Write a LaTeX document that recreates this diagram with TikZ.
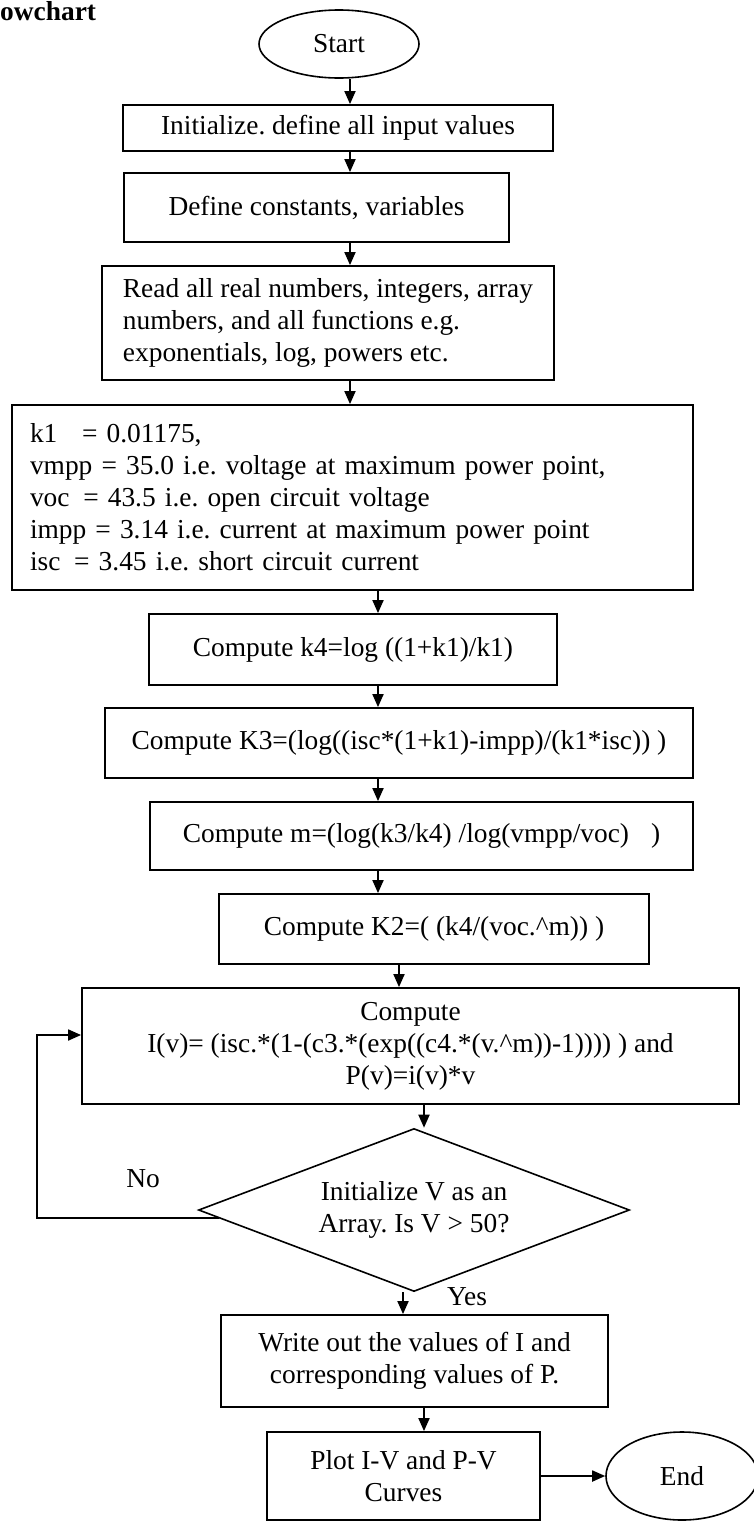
\documentclass[tikz,border=0pt]{standalone}
\usepackage{fontspec}
\setmainfont{Liberation Serif}
\usetikzlibrary{shapes.geometric,arrows.meta,calc}

\begin{document}
\frenchspacing
\begin{tikzpicture}[x=1pt, y=-1pt,
    font=\fontsize{27.4}{32}\selectfont,
    box/.style={draw, rectangle, line width=1.8pt, inner sep=0pt},
    term/.style={draw, ellipse, line width=1.6pt, inner sep=0pt},
    dec/.style={draw, diamond, aspect=2.64, line width=1.6pt, inner sep=0pt},
    arr/.style={-{Triangle[length=13pt,width=11pt]}, line width=1.8pt}]
    \useasboundingbox (0,0) rectangle (753,1521);

    % Nodes
    \node[anchor=base west, inner sep=0pt, font=\fontsize{27.4}{32}\selectfont\bfseries] (title) at (0,20) {owchart};
    \node[term, minimum width=160pt, minimum height=68pt] (St) at (339,44) {Start};
    \node[box, minimum width=430pt, minimum height=46pt] (Init) at (338,128) {Initialize. define all input values};
    \node[box, minimum width=385pt, minimum height=69pt] (Def) at (316.5,207.5) {Define constants, variables};
    \node[box, minimum width=452pt, minimum height=114pt, align=left] (Read) at (328,323) {Read all real numbers, integers, array\\numbers, and all functions e.g.\\exponentials, log, powers etc.};
    \node[box, minimum width=681pt, minimum height=185pt, text width=645pt, inner xsep=18pt, align=left] (Const) at (352.5,497.5) {k1\hspace{0.9em}= 0.01175,\\vmpp = 35.0 i.e. voltage at maximum power point,\\voc\hspace{0.5em}= 43.5 i.e. open circuit voltage\\impp = 3.14 i.e. current at maximum power point\\isc\hspace{0.5em}= 3.45 i.e. short circuit current};
    \node[box, minimum width=408pt, minimum height=71pt] (K4) at (353,649.5) {Compute k4=log ((1+k1)/k1)};
    \node[box, minimum width=588pt, minimum height=70pt] (K3) at (399,743) {Compute K3=(log((isc*(1+k1)-impp)/(k1*isc)) )};
    \node[box, minimum width=543pt, minimum height=68pt] (M) at (421.5,836) {Compute m=(log(k3/k4) /log(vmpp/voc)\hspace{0.8em})};
    \node[box, minimum width=430pt, minimum height=70pt] (K2) at (434,929) {Compute K2=( (k4/(voc.\textasciicircum m)) )};
    \node[box, minimum width=657pt, minimum height=116pt, align=center] (IV) at (410.5,1046) {Compute\\I(v)= (isc.*(1-(c3.*(exp((c4.*(v.\textasciicircum m))-1)))) ) and\\P(v)=i(v)*v};
    \node[dec, minimum width=431pt, minimum height=163pt, align=center] (Chk) at (414,1210) {Initialize V as an\\Array. Is V > 50?};
    \node[box, minimum width=387pt, minimum height=92pt, align=center] (Out) at (414.5,1361) {Write out the values of I and\\corresponding values of P.};
    \node[box, minimum width=273pt, minimum height=88pt, align=center] (Plot) at (403.5,1476) {Plot I-V and P-V\\Curves};
    \node[term, minimum width=152pt, minimum height=88pt] (End) at (682,1476) {End};

    % Arrow columns
    \coordinate (c1) at (350,0);
    \coordinate (c2) at (378,0);
    \coordinate (c3) at (399,0);
    \coordinate (c4) at (424,0);
    \coordinate (c5) at (403,0);
    \coordinate (lp) at (37,0);
    \coordinate (back) at ($(Chk.west)!0.1!(Chk.south)$);

    % Arrows
    \draw[arr] (St.south -| c1) -- (Init.north -| c1);
    \draw[arr] (Init.south -| c1) -- (Def.north -| c1);
    \draw[arr] (Def.south -| c1) -- (Read.north -| c1);
    \draw[arr] (Read.south -| c1) -- (Const.north -| c1);
    \draw[arr] (Const.south -| c2) -- (K4.north -| c2);
    \draw[arr] (K4.south -| c2) -- (K3.north -| c2);
    \draw[arr] (K3.south -| c2) -- (M.north -| c2);
    \draw[arr] (M.south -| c2) -- (K2.north -| c2);
    \draw[arr] (K2.south -| c3) -- (IV.north -| c3);
    \draw[arr] (IV.south -| c4) -- (Chk.north -| c4);
    \draw[arr] (back) -- (back -| lp) |- ([yshift=11pt]IV.west);
    \draw[arr] (Chk.south -| c5) -- (Out.north -| c5);
    \draw[arr] (Out.south -| c4) -- (Plot.north -| c4);
    \draw[arr] (Plot.east) -- (End.west);

    % Labels
    \node (no) at (143,1179) {No};
    \node (yes) at (467,1297) {Yes};
\end{tikzpicture}
\end{document}
